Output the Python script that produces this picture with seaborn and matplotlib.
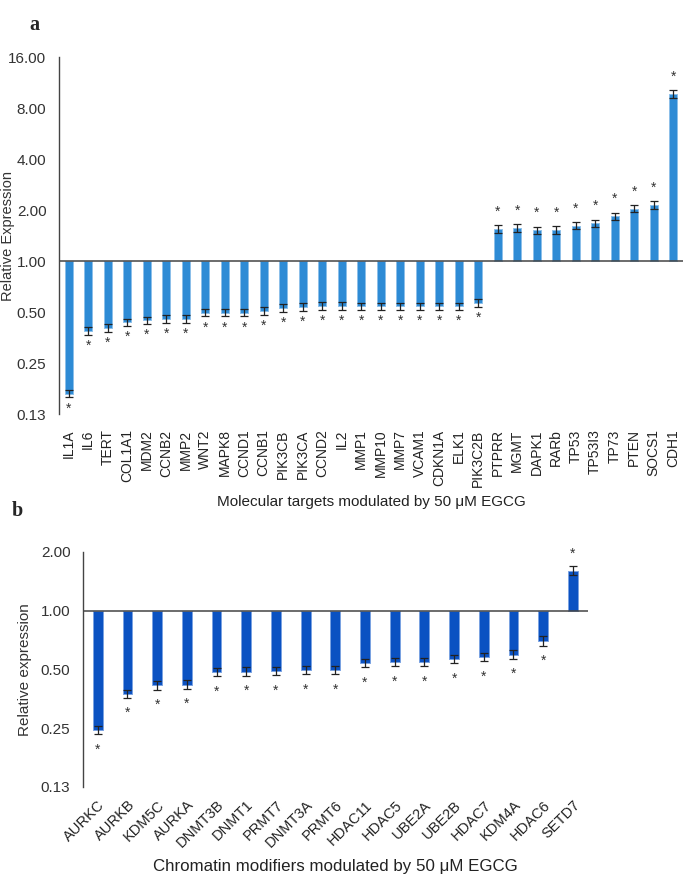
import numpy as np
import pandas as pd
import matplotlib
matplotlib.use("Agg")
import matplotlib.pyplot as plt
import seaborn as sns

# ---- panel a: molecular targets ----
GENES_A = ["IL1A", "IL6", "TERT", "COL1A1", "MDM2", "CCNB2", "MMP2", "WNT2",
           "MAPK8", "CCND1", "CCNB1", "PIK3CB", "PIK3CA", "CCND2", "IL2", "MMP1",
           "MMP10", "MMP7", "VCAM1", "CDKN1A", "ELK1", "PIK3C2B", "PTPRR", "MGMT",
           "DAPK1", "RARb", "TP53", "TP53I3", "TP73", "PTEN", "SOCS1", "CDH1"]
EXPR_A = [0.165, 0.386, 0.404, 0.436, 0.447, 0.455, 0.455, 0.497,
          0.497, 0.497, 0.507, 0.530, 0.535, 0.543, 0.543, 0.540,
          0.540, 0.540, 0.540, 0.540, 0.540, 0.565, 1.55, 1.57,
          1.52, 1.53, 1.62, 1.67, 1.84, 2.04, 2.15, 9.7]
# error half-widths in log2 units
ERR_A = [0.073] * len(GENES_A)
YTICKS_A = [-3, -2, -1, 0, 1, 2, 3, 4]
YTICKLABELS_A = ["0.13", "0.25", "0.50", "1.00", "2.00", "4.00", "8.00", "16.00"]

# ---- panel b: chromatin modifiers ----
GENES_B = ["AURKC", "AURKB", "KDM5C", "AURKA", "DNMT3B", "DNMT1", "PRMT7",
           "DNMT3A", "PRMT6", "HDAC11", "HDAC5", "UBE2A", "UBE2B", "HDAC7",
           "KDM4A", "HDAC6", "SETD7"]
EXPR_B = [0.245, 0.375, 0.413, 0.417, 0.483, 0.487, 0.490,
          0.497, 0.497, 0.537, 0.544, 0.544, 0.563, 0.577,
          0.595, 0.697, 1.60]
ERR_B = [0.068, 0.07, 0.073, 0.073, 0.07, 0.07, 0.07,
         0.07, 0.07, 0.07, 0.07, 0.07, 0.07, 0.07,
         0.075, 0.082, 0.073]
YTICKS_B = [-3, -2, -1, 0, 1]
YTICKLABELS_B = ["0.13", "0.25", "0.50", "1.00", "2.00"]

COLOR_A = "#2E8BD5"
EDGE_A = "#8CBFEA"
COLOR_B = "#0B52C2"
EDGE_B = "#7AA2E2"

sns.set_style("white")
plt.rcParams["font.family"] = ["Liberation Sans", "DejaVu Sans"]


def draw_panel(ax, genes, expr, err, color, edge, width, yticks, yticklabels,
               ylabel, xlabel, xlabel_fs, star_down, star_up):
    df = pd.DataFrame({"gene": genes, "log2": np.log2(expr)})
    sns.barplot(data=df, x="gene", y="log2", order=genes, color=color,
                width=width, edgecolor=edge, linewidth=0.7, saturation=1,
                ax=ax)
    x = np.arange(len(genes))
    ax.errorbar(x, df["log2"], yerr=err, fmt="none", ecolor="#222222",
                elinewidth=0.9, capsize=2.6, capthick=0.9, zorder=4)
    for xi, v in zip(x, df["log2"]):
        off = star_up if v > 0 else star_down
        ax.annotate("*", (xi, v), xytext=(0, off), textcoords="offset points",
                    ha="center", va="baseline", fontsize=10, color="#333333")
    ax.axhline(0, color="#444444", lw=1.1, zorder=5)
    ax.set_xlim(-0.5, len(genes) - 0.5)
    ax.set_ylim(yticks[0], yticks[-1])
    ax.set_yticks(yticks)
    ax.set_yticklabels(yticklabels, fontsize=11, color="#333333")
    sns.despine(ax=ax, bottom=True, right=True, top=True)
    ax.spines["left"].set_color("#444444")
    ax.spines["left"].set_linewidth(1.0)
    ax.tick_params(axis="y", length=0, pad=9)
    ax.tick_params(axis="x", length=0)
    ax.set_ylabel(ylabel, fontsize=11, color="#333333")
    ax.set_xlabel(xlabel, fontsize=xlabel_fs, color="#222222")


fig = plt.figure(figsize=(6.85, 8.85), dpi=100)

ax_a = fig.add_axes([0.086, 0.532, 0.911, 0.4035])
draw_panel(ax_a, GENES_A, EXPR_A, ERR_A, COLOR_A, EDGE_A, 0.4,
           YTICKS_A, YTICKLABELS_A, "Relative Expression",
           "Molecular targets modulated by 50 μM EGCG", 11,
           star_down=-13.5, star_up=9.5)
ax_a.set_xticks(np.arange(len(GENES_A)))
ax_a.set_xticklabels(GENES_A, rotation=90, fontsize=10, color="#222222",
                     va="top", ha="center")
ax_a.tick_params(axis="x", pad=11)
ax_a.xaxis.labelpad = 6
ax_a.yaxis.label.set_fontsize(10.5)
ax_a.yaxis.set_label_coords(-0.071, 0.5)

ax_b = fig.add_axes([0.121, 0.111, 0.737, 0.2655])
draw_panel(ax_b, GENES_B, EXPR_B, ERR_B, COLOR_B, EDGE_B, 0.33,
           YTICKS_B, YTICKLABELS_B, "Relative expression",
           "Chromatin modifiers modulated by 50 μM EGCG", 12.2,
           star_down=-17, star_up=9.5)
ax_b.set_xticks(np.arange(len(GENES_B)))
ax_b.set_xticklabels(GENES_B, rotation=45, fontsize=10.5, color="#222222",
                     ha="right", rotation_mode="anchor")
ax_b.tick_params(axis="x", pad=8)
ax_b.xaxis.labelpad = 6
ax_b.yaxis.labelpad = 6

fig.text(0.051, 0.9718, "a", fontsize=14.5, fontweight="bold",
         family=["Liberation Serif", "DejaVu Serif"], ha="center", va="center")
fig.text(0.026, 0.423, "b", fontsize=14.5, fontweight="bold",
         family=["Liberation Serif", "DejaVu Serif"], ha="center", va="center")

fig.savefig("out.png", dpi=100)
